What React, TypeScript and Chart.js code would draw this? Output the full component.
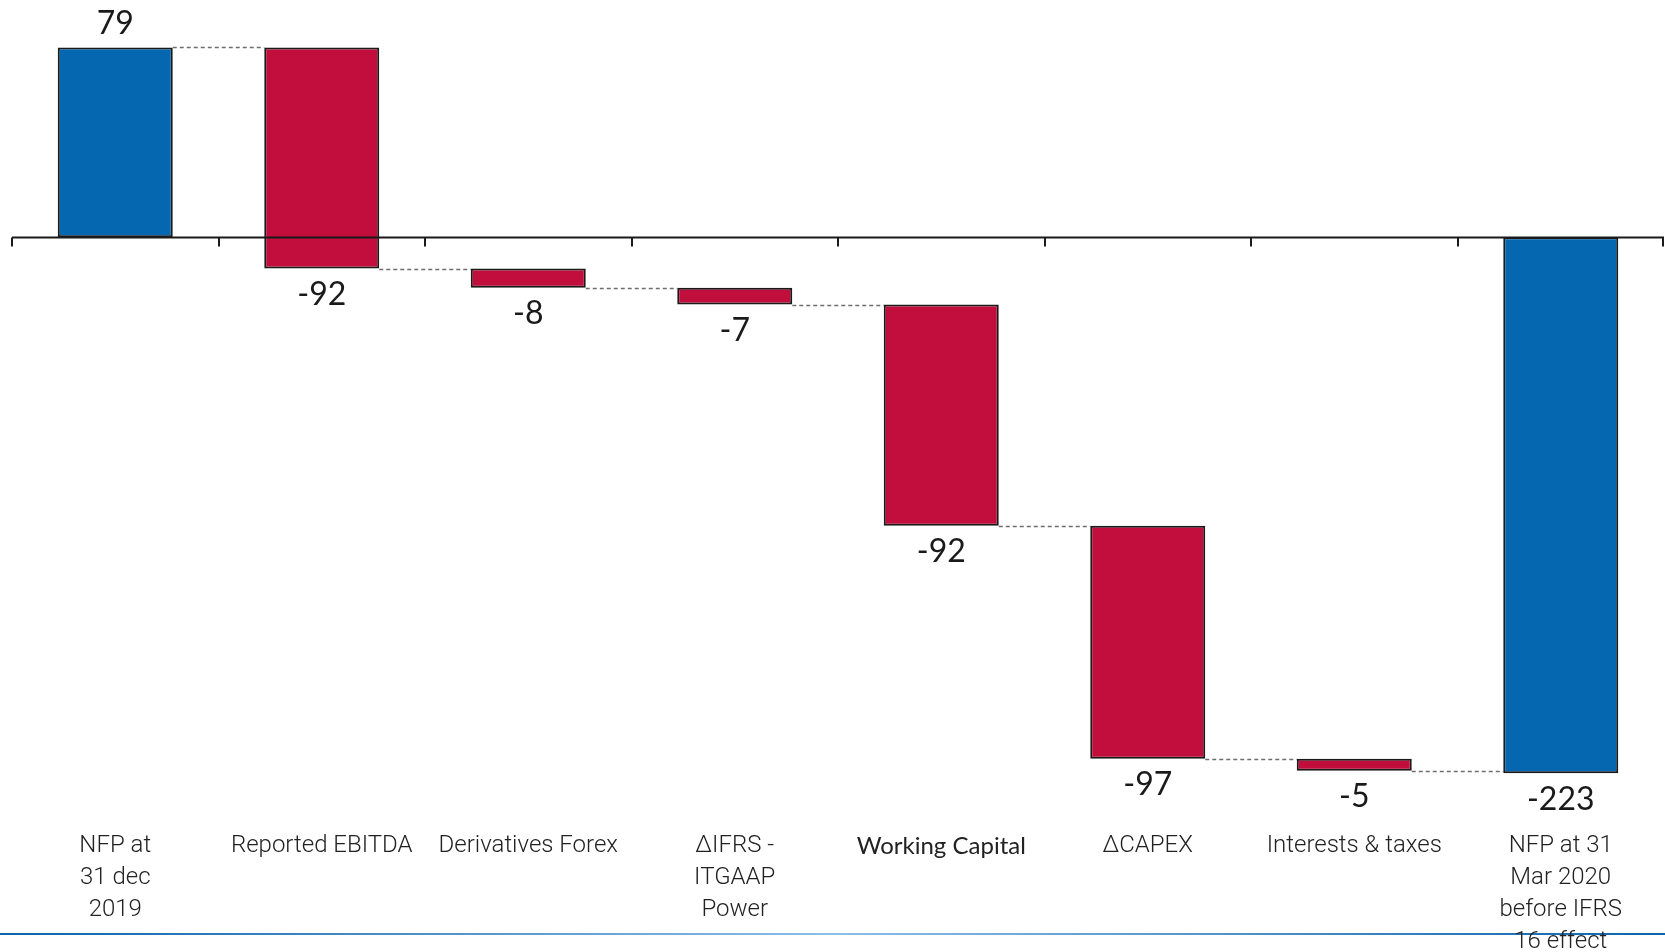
import React, { useEffect, useRef } from "react";
import { Chart, registerables } from "chart.js";

Chart.register(...registerables);

const categories: (string | string[])[] = [
  ["NFP at", "31 dec", "2019"],
  "Reported EBITDA",
  "Derivatives Forex",
  ["∆IFRS -", "ITGAAP", "Power"],
  "Working Capital",
  "∆CAPEX",
  "Interests & taxes",
  ["NFP at 31", "Mar 2020", "before IFRS", "16 effect"],
];
const startValue = 79;
const deltas = [-92, -8, -7, -92, -97, -5];
const endValue = -223;
const labelValues = [startValue, ...deltas, endValue];

const BLUE = "#0467B0";
const RED = "#C10E3C";

function buildRanges(): [number, number][] {
  const ranges: [number, number][] = [[0, startValue]];
  let run = startValue;
  for (const d of deltas) {
    ranges.push([run, run + d]);
    run += d;
  }
  ranges.push([0, endValue]);
  return ranges;
}

const waterfallPlugin = {
  id: "waterfallExtras",
  beforeDraw(chart: any) {
    const { ctx, width } = chart;
    ctx.save();
    const g = ctx.createLinearGradient(0, 0, width, 0);
    g.addColorStop(0, "#0a63ad");
    g.addColorStop(0.5, "#8fbde6");
    g.addColorStop(1, "#0a63ad");
    ctx.fillStyle = g;
    ctx.fillRect(0, 933, width, 2);
    ctx.restore();
  },
  afterDatasetsDraw(chart: any) {
    const { ctx, chartArea } = chart;
    const x = chart.scales.x;
    const y = chart.scales.y;
    const meta = chart.getDatasetMeta(0);
    const ranges = chart.data.datasets[0].data as [number, number][];
    ctx.save();
    // zero axis line
    const y0 = Math.round(y.getPixelForValue(0)) + 0.5;
    ctx.strokeStyle = "#1a1a1a";
    ctx.lineWidth = 2;
    ctx.beginPath();
    ctx.moveTo(chartArea.left, y0);
    ctx.lineTo(chartArea.right, y0);
    const n = categories.length;
    for (let i = 0; i <= n; i++) {
      let px: number;
      if (i === 0) px = chartArea.left;
      else if (i === n) px = chartArea.right - 1;
      else px = (x.getPixelForValue(i - 1) + x.getPixelForValue(i)) / 2;
      px = Math.round(px);
      ctx.moveTo(px, y0);
      ctx.lineTo(px, y0 + 9);
    }
    ctx.stroke();
    // connectors
    ctx.strokeStyle = "#6e6e6e";
    ctx.lineWidth = 1.3;
    ctx.setLineDash([4, 3]);
    for (let i = 0; i < n - 1; i++) {
      const a = meta.data[i];
      const b = meta.data[i + 1];
      const level = ranges[i][1];
      const py = Math.round(y.getPixelForValue(level)) + 0.5;
      ctx.beginPath();
      ctx.moveTo(a.x + a.width / 2, py);
      ctx.lineTo(b.x - b.width / 2, py);
      ctx.stroke();
    }
    ctx.setLineDash([]);
    // value labels
    ctx.fillStyle = "#1a1a1a";
    ctx.font = "32px Lato, 'Open Sans', sans-serif";
    ctx.textAlign = "center";
    ctx.textBaseline = "alphabetic";
    for (let i = 0; i < n; i++) {
      const el = meta.data[i];
      const [s, e] = ranges[i];
      const v = labelValues[i];
      const top = Math.min(y.getPixelForValue(s), y.getPixelForValue(e));
      const bottom = Math.max(y.getPixelForValue(s), y.getPixelForValue(e));
      const cy = v >= 0 ? top - 25 : bottom + 25;
      ctx.fillText(String(v), el.x, cy + 11.5);
    }
    ctx.restore();
  },
};

export default function App() {
  const canvasRef = useRef<HTMLCanvasElement | null>(null);

  useEffect(() => {
    if (!canvasRef.current) return;
    const ranges = buildRanges();
    const colors = ranges.map((_, i) =>
      i === 0 || i === ranges.length - 1 ? BLUE : RED
    );
    const chart = new Chart(canvasRef.current, {
      type: "bar",
      data: {
        labels: categories,
        datasets: [
          {
            data: ranges as any,
            backgroundColor: colors,
            borderColor: "#1a1a1a",
            borderWidth: 2,
            borderSkipped: false,
            categoryPercentage: 1,
            barPercentage: 0.557,
          },
        ],
      },
      options: {
        animation: false,
        responsive: true,
        maintainAspectRatio: false,
        layout: { padding: { top: 21, left: 12, right: 1, bottom: 0 } },
        plugins: {
          legend: { display: false },
          tooltip: { enabled: false },
        },
        scales: {
          x: {
            position: "bottom",
            grid: { display: false, drawTicks: false },
            border: { display: false },
            afterFit: (scale: any) => {
              scale.height = 162;
            },
            ticks: {
              autoSkip: false,
              maxRotation: 0,
              minRotation: 0,
              padding: 40,
              color: "#222222",
              font: (ctx: any) =>
                ctx.index === 4
                  ? { family: "Lato, 'Open Sans', sans-serif", size: 24, weight: "normal", lineHeight: 1.3333 }
                  : { family: "Roboto, sans-serif", size: 24, weight: 300, lineHeight: 1.3333 },
            },
          },
          y: {
            display: false,
            min: -230,
            max: 90,
          },
        },
      },
      plugins: [waterfallPlugin],
    });
    return () => chart.destroy();
  }, []);

  return (
    <div style={{ position: "absolute", left: 0, top: 0, width: 1665, height: 952, background: "#fff" }}>
      <canvas ref={canvasRef} />
    </div>
  );
}
